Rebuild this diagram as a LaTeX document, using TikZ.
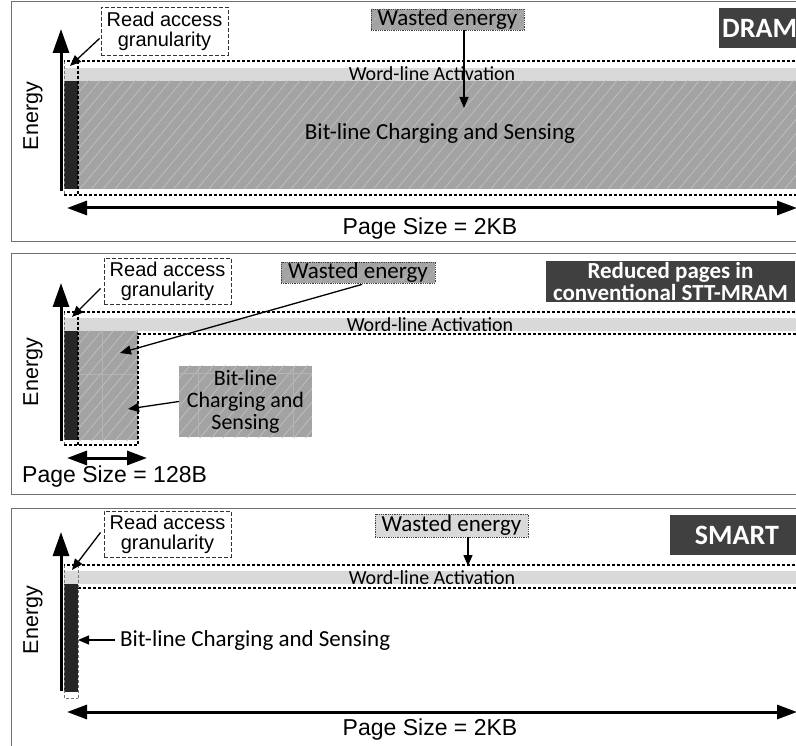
\documentclass[tikz,border=0pt]{standalone}
\usepackage{fontspec}
\setmainfont{Carlito}
\newfontfamily\arialfont{Liberation Sans}
\usetikzlibrary{arrows.meta,patterns.meta,calc}

\definecolor{barfill}{HTML}{262626}
\definecolor{bandfill}{HTML}{D9D9D9}
\definecolor{wastefill}{HTML}{A3A3A3}
\definecolor{hatchline}{HTML}{C0C0C0}
\definecolor{gridcol}{HTML}{B4B4B4}
\definecolor{tagfill}{HTML}{404040}
\definecolor{framecol}{HTML}{707070}

\tikzset{
  frame/.style={draw=framecol, line width=1pt},
  band/.style={fill=bandfill},
  bar/.style={fill=barfill},
  hatched/.style={fill=wastefill,
    postaction={pattern={Lines[angle=50,distance=9pt,line width=0.7pt]}, pattern color=hatchline}},
  gridline/.style={draw=gridcol, line width=0.6pt},
  dashline/.style={draw=black, line width=1.2pt, dash pattern=on 3pt off 2pt},
  faintdash/.style={draw=black!55, line width=0.8pt, dash pattern=on 3pt off 2pt},
  readbox/.style={draw=black!80, line width=0.8pt, dash pattern=on 4pt off 2pt,
    font=\arialfont\fontsize{20}{20}\selectfont, align=center, inner sep=0pt},
  wastebox/.style={draw=black!75, line width=0.8pt, densely dotted, inner sep=0pt,
    font=\fontsize{23}{23}\selectfont},
  tag/.style={fill=tagfill, text=white, inner sep=0pt},
  axis/.style={line width=3pt, -{Triangle[length=24pt,width=16pt]}},
  span/.style={line width=3pt, {Triangle[length=20pt,width=14pt]}-{Triangle[length=20pt,width=14pt]}},
  callout/.style={line width=1.3pt, -{Triangle[length=11pt,width=9pt]}},
  energy/.style={font=\arialfont\fontsize{21.5}{21.5}\selectfont, rotate=90},
  pagelbl/.style={font=\arialfont\fontsize{23}{23}\selectfont, inner sep=0pt},
  wordlbl/.style={font=\fontsize{20}{20}\selectfont, inner sep=0pt},
  bitlbl/.style={font=\fontsize{23}{19}\selectfont, inner sep=0pt, align=center},
  bitstack/.style={font=\fontsize{22}{22}\selectfont, inner sep=0pt, align=center},
}

\begin{document}
\begin{tikzpicture}[x=1pt,y=-1pt]
\useasboundingbox (0,0) rectangle (796,746);
\fill[white] (0,0) rectangle (796,746);

%%%%%%%%%%%%%%%% DRAM
\draw[frame] (11,2) rectangle (810,242);
\fill[band] (64,68) rectangle (810,81);
\fill[bar] (64,81) rectangle (78,189);
\path[hatched] (78,81) rectangle (810,189);
\draw[faintdash] (64,61) -- (64,195);
\draw[dashline] (810,61) -- (64,61);
\draw[dashline] (64,195) -- (810,195);
\draw[dashline] (78,61) -- (78,195);

\node[wordlbl] (wl1) at (432,74) {Word-line Activation};
\node[bitlbl] (bl1) at (440,133) {Bit-line Charging and Sensing};

\node[readbox, minimum width=127pt, minimum height=48pt] (r1) at (164.5,31) {Read access\\granularity};
\coordinate (g1) at (70,66);
\draw[callout] ([yshift=17pt,xshift=-1pt]r1.south west) -- (g1);

\coordinate (eb1) at (61,191);
\coordinate (et1) at (61,29);
\draw[axis] (eb1) -- (et1);
\node[energy] (en1) at (33,116) {Energy};

\node[wastebox, hatched, minimum width=153pt, minimum height=21pt] (w1) at (447.5,19.5) {Wasted energy};
\coordinate (wt1) at (464,108);
\draw[callout] (w1.south -| wt1) -- (wt1);

\node[tag, anchor=west, minimum height=40pt, text width=90pt, inner xsep=3pt, align=left,
  font=\bfseries\fontsize{28}{28}\selectfont] (t1) at (719,28) {DRAM};

\coordinate (sl1) at (67,208);
\coordinate (sr1) at (797,208);
\draw[span] (sl1) -- (sr1);
\node[pagelbl] (p1) at (430,229) {Page Size = 2KB};

%%%%%%%%%%%%%%%% Conventional STT-MRAM
\draw[frame] (11,254) rectangle (810,494);
\fill[band] (64,318) rectangle (810,331);
\fill[bar] (64,331) rectangle (78,440);
\path[hatched] (78,331) rectangle (138,440);
\draw[gridline] (102,331) -- (102,440);
\draw[gridline] (78,374) -- (138,374);
\draw[faintdash] (64,312) -- (64,445);
\draw[dashline] (810,312) -- (64,312);
\draw[dashline] (64,445) -- (138,445) -- (138,334) -- (810,334);
\draw[dashline] (78,312) -- (78,445);

\node[wordlbl] (wl2) at (430,325) {Word-line Activation};

\node[readbox, minimum width=127pt, minimum height=46pt] (r2) at (167.5,281) {Read access\\granularity};
\coordinate (g2) at (72,317);
\draw[callout] ([yshift=16pt,xshift=-3pt]r2.south west) -- (g2);

\coordinate (eb2) at (61,441);
\coordinate (et2) at (61,283);
\draw[axis] (eb2) -- (et2);
\node[energy] (en2) at (33,372) {Energy};

\node[wastebox, hatched, minimum width=154pt, minimum height=21pt] (w2) at (358,272.5) {Wasted energy};
\coordinate (wt2) at (120,353);
\draw[callout] ([xshift=4pt,yshift=-1pt]w2.south) -- (wt2);

\path[hatched] (179,366) rectangle (312,437);
\draw[gridline] (198,366) -- (198,437);
\draw[gridline] (293,366) -- (293,437);
\draw[gridline] (179,373) -- (312,373);
\node[bitstack, minimum width=133pt, minimum height=71pt] (b2) at (245.5,401.5) {Bit-line\\Charging and\\Sensing};
\coordinate (bt2) at (128,409);
\draw[callout] (b2.west) -- (bt2);

\node[tag, minimum width=249pt, minimum height=41pt, align=center,
  font=\bfseries\fontsize{23}{19}\selectfont] (t2) at (670.5,281.5) {Reduced pages in\\conventional STT-MRAM};

\coordinate (sl2) at (67,458);
\coordinate (sr2) at (147,458);
\draw[span] (sl2) -- (sr2);
\node[pagelbl, anchor=west] (p2) at (22,477) {Page Size = 128B};

%%%%%%%%%%%%%%%% SMART
\draw[frame] (11,508) rectangle (810,760);
\fill[band] (64,571) rectangle (810,584);
\fill[bar] (64,584) rectangle (78,692);
\draw[faintdash] (64,565) -- (64,698) -- (78,698);
\draw[dashline] (810,565) -- (64,565);
\draw[dashline] (78,588) -- (810,588);
\draw[faintdash] (78,565) -- (78,698);

\node[wordlbl] (wl3) at (432,578) {Word-line Activation};

\node[readbox, minimum width=127pt, minimum height=46pt] (r3) at (167.5,534) {Read access\\granularity};
\coordinate (g3) at (72,570);
\draw[callout] ([yshift=25pt,xshift=-3pt]r3.south west) -- (g3);

\coordinate (eb3) at (61,691);
\coordinate (et3) at (61,532);
\draw[axis] (eb3) -- (et3);
\node[energy] (en3) at (33,620) {Energy};

\node[wastebox, fill=bandfill, minimum width=153pt, minimum height=23pt] (w3) at (451.5,525.5) {Wasted energy};
\coordinate (wt3) at (468,566);
\draw[callout] (w3.south -| wt3) -- (wt3);

\node[tag, minimum width=134pt, minimum height=40pt,
  font=\bfseries\fontsize{28}{28}\selectfont] (t3) at (737,535) {SMART};

\node[bitlbl, anchor=west] (bl3) at (120,640) {Bit-line Charging and Sensing};
\coordinate (bt3) at (78,640);
\draw[callout] ([xshift=-5pt]bl3.west) -- (bt3);

\coordinate (sl3) at (67,712);
\coordinate (sr3) at (797,712);
\draw[span] (sl3) -- (sr3);
\node[pagelbl] (p3) at (430,730) {Page Size = 2KB};
\end{tikzpicture}
\end{document}
